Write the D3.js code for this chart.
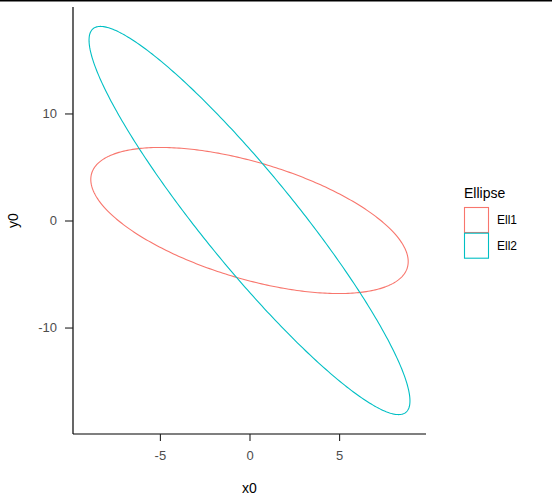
<!DOCTYPE html>
<html><head><meta charset="utf-8">
<script src="https://cdn.jsdelivr.net/npm/d3@7"></script>
<style>body{margin:0;background:#fff}text{font-family:"Liberation Sans",Arial,sans-serif}</style>
</head><body>
<script>
// Ellipse parameters (ggforce geom_ellipse style)
const names = ["Ell1", "Ell2"];
const x0 = [0, 0];
const y0 = [0, 0];
const semiA = [10, 20];
const semiB = [5, 3];
const angle = [-0.566, -1.13];
const colors = ["#F8766D", "#00BFC4"];
const xTicks = [-5, 0, 5];
const yTicks = [-10, 0, 10];
const nPts = 360;

const W = 552, H = 504;
const svg = d3.select("body").append("svg").attr("width", W).attr("height", H);
svg.append("rect").attr("x",0).attr("y",0).attr("width",W).attr("height",1.5).attr("fill","#000");

const ellipses = names.map((nm, i) => {
  const pts = d3.range(nPts + 1).map(k => {
    const t = 2 * Math.PI * k / nPts;
    const ca = Math.cos(angle[i]), sa = Math.sin(angle[i]);
    const ex = semiA[i] * Math.cos(t), ey = semiB[i] * Math.sin(t);
    return [x0[i] + ex * ca - ey * sa, y0[i] + ex * sa + ey * ca];
  });
  return {name: nm, color: colors[i], pts};
});

const all = ellipses.flatMap(e => e.pts);
const xe = d3.extent(all, d => d[0]), ye = d3.extent(all, d => d[1]);
const xp = (xe[1]-xe[0])*0.05, yp = (ye[1]-ye[0])*0.05;
const L = 73, R = 426, T = 7, B = 434;
const x = d3.scaleLinear().domain([xe[0]-xp, xe[1]+xp]).range([L, R]);
const y = d3.scaleLinear().domain([ye[0]-yp, ye[1]+yp]).range([B, T]);

const line = d3.line().x(d => x(d[0])).y(d => y(d[1]));
svg.append("g").selectAll("path").data(ellipses).join("path")
  .attr("d", d => line(d.pts)).attr("fill", "none")
  .attr("stroke", d => d.color).attr("stroke-width", 1.1);

const fmt = d => String(d);
const xa = svg.append("g").attr("transform", `translate(0,${B})`)
  .call(d3.axisBottom(x).tickValues(xTicks).tickFormat(fmt).tickSize(7).tickPadding(10).tickSizeOuter(0));
const ya = svg.append("g").attr("transform", `translate(${L},0)`)
  .call(d3.axisLeft(y).tickValues(yTicks).tickFormat(fmt).tickSize(8).tickPadding(8).tickSizeOuter(0));
[xa, ya].forEach(a => {
  a.select(".domain").attr("stroke", "#000").attr("stroke-width", 1.2);
  a.selectAll(".tick line").attr("stroke", "#222").attr("stroke-width", 1.1);
  a.selectAll(".tick text").attr("fill", "#4D4D4D").style("font-size", "13px")
    .style("font-family", '"Liberation Sans",Arial,sans-serif');
});
xa.select(".domain").attr("d", `M${L},0H${R}`);
ya.select(".domain").attr("d", `M0,${T}V${B}`);

svg.append("text").attr("x", (L+R)/2).attr("y", 493).attr("text-anchor","middle")
  .style("font-size","14px").text("x0");
svg.append("text").attr("transform", `translate(18,${(T+B)/2}) rotate(-90)`)
  .attr("text-anchor","middle").style("font-size","14px").text("y0");

const lg = svg.append("g");
lg.append("text").attr("x", 464).attr("y", 198).style("font-size","14px").text("Ellipse");
ellipses.forEach((e, i) => {
  const yy = 207.5 + i * 25.7;
  lg.append("rect").attr("x", 464.5).attr("y", yy).attr("width", 24).attr("height", 25)
    .attr("fill", "#fff").attr("stroke", e.color).attr("stroke-width", 1.1);
  lg.append("text").attr("x", 497).attr("y", yy + 12.5).attr("dy", "0.35em")
    .style("font-size","12px").text(e.name);
});
</script>
</body></html>
